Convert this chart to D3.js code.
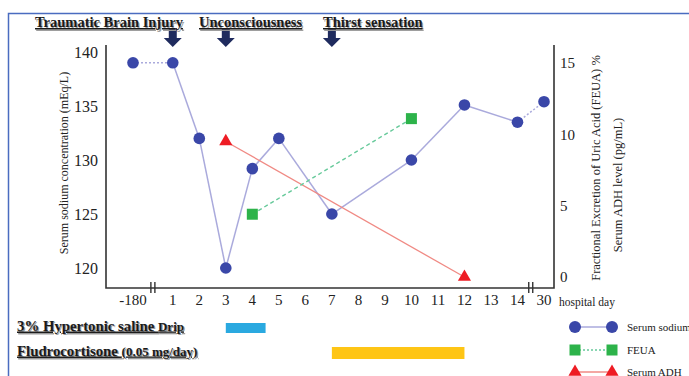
<!DOCTYPE html>
<html><head><meta charset="utf-8">
<style>
    body { margin: 0; background: #ffffff; }
    svg { display: block; }
</style>
</head>
<body>
<svg id="chart" width="689" height="376" font-family="Liberation Serif"></svg>
<script src="https://cdn.jsdelivr.net/npm/d3@7/dist/d3.min.js"></script>
<script>
// categories on the day axis
const days = ["-180", "1", "2", "3", "4", "5", "6", "7", "8", "9", "10", "11", "12", "13", "14", "30"];
const sodiumTicks = [120, 125, 130, 135, 140];
const rightTicks = [0, 5, 10, 15];

// serum sodium (mEq/L)
const sodiumDays = ["-180", "1", "2", "3", "4", "5", "7", "10", "12", "14", "30"];
const sodiumValues = [139, 139, 132, 120, 129.2, 132, 125, 130, 135.1, 133.5, 135.4];

// FEUA (%)
const feuaDays = ["4", "10"];
const feuaValues = [4.4, 11.1];

// serum ADH (pg/mL)
const adhDays = ["3", "12"];
const adhValues = [9.5, 0];

// events at top
const eventNames = ["Traumatic Brain Injury", "Unconsciousness", "Thirst sensation"];
const eventDays = ["1", "3", "7"];

// treatments (start day, end day)
const treatNames = ["3% Hypertonic saline ", "Fludrocortisone "];
const treatNotes = ["Drip", "(0.05 mg/day)"];
const treatStart = [3, 7];
const treatEnd = [4.5, 12];
const treatColors = ["#2aa9e0", "#fec515"];

const legendNames = ["Serum sodium", "FEUA", "Serum ADH"];

const svg = d3.select("#chart");
const margin = {left: 106, right: 554, top: 45, bottom: 288};

// blue frame
svg.append("path")
    .attr("d", "M8.5,376 V13.5 H689")
    .attr("fill", "none")
    .attr("stroke", "#4a6cc0")
    .attr("stroke-width", 1.5);

// day -> slot (gap after -180 and before 30)
function slot(day) {
    let d = +day;
    if (d < 0) return 0;
    if (d > 14) return 15.5;
    return d + 0.5;
}
let xScale = d3.scaleLinear().domain([0, 15.5]).range([133, 544]);
let x = d => xScale(slot(d));
let yL = d3.scaleLinear().domain([118.15, 140.65]).range([margin.bottom, margin.top]);
let yR = d3.scaleLinear().domain([-0.77, 16.26]).range([margin.bottom, margin.top]);

// axes lines
let axisG = svg.append("g").attr("stroke", "#333").attr("stroke-width", 1.6).attr("fill", "none");
axisG.append("path")
    .attr("d", `M${margin.left},${margin.top} V${margin.bottom} H${margin.right} V${margin.top}`);

// axis breaks
[0.75, 15].forEach(s => {
    let bx = xScale(s);
    [-2, 2].forEach(o => {
        svg.append("line")
            .attr("x1", bx + o).attr("x2", bx + o)
            .attr("y1", margin.bottom - 6).attr("y2", margin.bottom + 5)
            .attr("stroke", "#333").attr("stroke-width", 1.4);
    });
});

// tick labels
svg.selectAll(".ytl").data(sodiumTicks).enter().append("text")
    .attr("x", 98).attr("y", d => yL(d))
    .attr("dy", "0.35em").attr("text-anchor", "end").attr("fill", "#222")
    .attr("font-size", 16).text(d => d);

svg.selectAll(".yrl").data(rightTicks).enter().append("text")
    .attr("x", 560).attr("y", d => yR(d))
    .attr("dy", "0.35em").attr("fill", "#222")
    .attr("font-size", 15).text(d => d);

svg.selectAll(".xtl").data(days).enter().append("text")
    .attr("x", d => x(d)).attr("y", 300)
    .attr("dy", "0.35em").attr("text-anchor", "middle").attr("fill", "#222")
    .attr("font-size", 15).text(d => d);

svg.append("text").attr("x", 559).attr("y", 302).attr("dy", "0.35em")
    .attr("font-size", 11.5).attr("fill", "#222").text("hospital day");

// axis titles
svg.append("text")
    .attr("transform", "translate(68,163) rotate(-90)")
    .attr("text-anchor", "middle").attr("font-size", 12).attr("fill", "#222")
    .text("Serum sodium concentration (mEq/L)");
svg.append("text")
    .attr("transform", "translate(600,168) rotate(-90)")
    .attr("text-anchor", "middle").attr("font-size", 12.5).attr("fill", "#222")
    .text("Fractional Excretion of Uric Acid (FEUA) %");
svg.append("text")
    .attr("transform", "translate(622,185) rotate(-90)")
    .attr("text-anchor", "middle").attr("font-size", 12.5).attr("fill", "#222")
    .text("Serum ADH level (pg/mL)");

// series
let sodium = sodiumDays.map((d, i) => ({day: d, v: sodiumValues[i]}));
let feua = feuaDays.map((d, i) => ({day: d, v: feuaValues[i]}));
let adh = adhDays.map((d, i) => ({day: d, v: adhValues[i]}));

const sodiumLine = "#aaaadc", sodiumDot = "#3a47a8";
const feuaColor = "#2db34a", feuaLine = "#66c99a";
const adhColor = "#ee1c24", adhLine = "#f08a84";

// sodium segments: dotted at both ends
for (let i = 0; i < sodium.length - 1; i++) {
    let a = sodium[i], b = sodium[i + 1];
    let dotted = (i === 0 || i === sodium.length - 2);
    svg.append("line")
        .attr("x1", x(a.day)).attr("y1", yL(a.v))
        .attr("x2", x(b.day)).attr("y2", yL(b.v))
        .attr("stroke", sodiumLine).attr("stroke-width", 1.5)
        .attr("stroke-dasharray", dotted ? "2,2" : null);
}

let lineR = d3.line().x(d => x(d.day)).y(d => yR(d.v));
svg.append("path").datum(adh).attr("d", lineR)
    .attr("fill", "none").attr("stroke", adhLine).attr("stroke-width", 1.3);
svg.append("path").datum(feua).attr("d", lineR)
    .attr("fill", "none").attr("stroke", feuaLine).attr("stroke-width", 1.4)
    .attr("stroke-dasharray", "4,3");

svg.selectAll(".na").data(sodium).enter().append("circle")
    .attr("cx", d => x(d.day)).attr("cy", d => yL(d.v)).attr("r", 5.8)
    .attr("fill", sodiumDot);

svg.selectAll(".fe").data(feua).enter().append("rect")
    .attr("x", d => x(d.day) - 5.5).attr("y", d => yR(d.v) - 5.5)
    .attr("width", 11).attr("height", 11).attr("fill", feuaColor);

let tri = d3.symbol().type(d3.symbolTriangle).size(75);
svg.selectAll(".adh").data(adh).enter().append("path")
    .attr("transform", d => `translate(${x(d.day)},${yR(d.v)})`)
    .attr("d", tri).attr("fill", adhColor);

// event arrows
function arrowPath(cx) {
    let p = d3.path();
    p.moveTo(cx - 4, 28); p.lineTo(cx + 4, 28); p.lineTo(cx + 4, 38);
    p.lineTo(cx + 9, 38); p.lineTo(cx, 47); p.lineTo(cx - 9, 38);
    p.lineTo(cx - 4, 38); p.closePath();
    return p.toString();
}
eventDays.forEach(d => {
    svg.append("path").attr("d", arrowPath(x(d))).attr("fill", "#1f2b5e");
});

function shadowText(tx, ty, parts) {
    [["#9a9a9a", 1.2, 1.5], ["#1a1a1a", 0, 0]].forEach(([col, dx, dy]) => {
        let t = svg.append("text").attr("x", tx + dx).attr("y", ty + dy)
            .attr("fill", col).attr("font-weight", "bold")
            .attr("text-decoration", "underline");
        parts.forEach(p => t.append("tspan").attr("font-size", p.size).text(p.text));
    });
}
const eventLabelX = [35, 199, 323];
eventNames.forEach((n, i) => shadowText(eventLabelX[i], 27, [{text: n, size: 14.5}]));

// treatments
const treatRowY = [326, 351];
treatNames.forEach((n, i) => {
    shadowText(17, treatRowY[i] + 4.5, [{text: n, size: 14.8}, {text: treatNotes[i], size: 13}]);
    svg.append("rect")
        .attr("x", xScale(treatStart[i] + 0.5))
        .attr("y", treatRowY[i] - 4 + (i ? 0 : 1))
        .attr("width", xScale(treatEnd[i] + 0.5) - xScale(treatStart[i] + 0.5))
        .attr("height", i ? 12 : 10)
        .attr("fill", treatColors[i]);
});

// legend
const legendY = [327, 350, 372];
legendNames.forEach((n, i) => {
    let ly = legendY[i];
    let lg = svg.append("g");
    lg.append("line").attr("x1", 575).attr("x2", 612).attr("y1", ly).attr("y2", ly)
        .attr("stroke", [sodiumLine, feuaLine, adhLine][i]).attr("stroke-width", 1.5)
        .attr("stroke-dasharray", i === 1 ? "2,2" : null);
    [575, 612].forEach(mx => {
        if (i === 0) lg.append("circle").attr("cx", mx).attr("cy", ly).attr("r", 6).attr("fill", sodiumDot);
        if (i === 1) lg.append("rect").attr("x", mx - 5.5).attr("y", ly - 5.5).attr("width", 11).attr("height", 11).attr("fill", feuaColor);
        if (i === 2) lg.append("path").attr("transform", `translate(${mx},${ly})`).attr("d", tri).attr("fill", adhColor);
    });
    lg.append("text").attr("x", 627).attr("y", ly).attr("dy", "0.35em")
        .attr("font-size", 11).attr("fill", "#222").text(n);
});
</script>
</body></html>
